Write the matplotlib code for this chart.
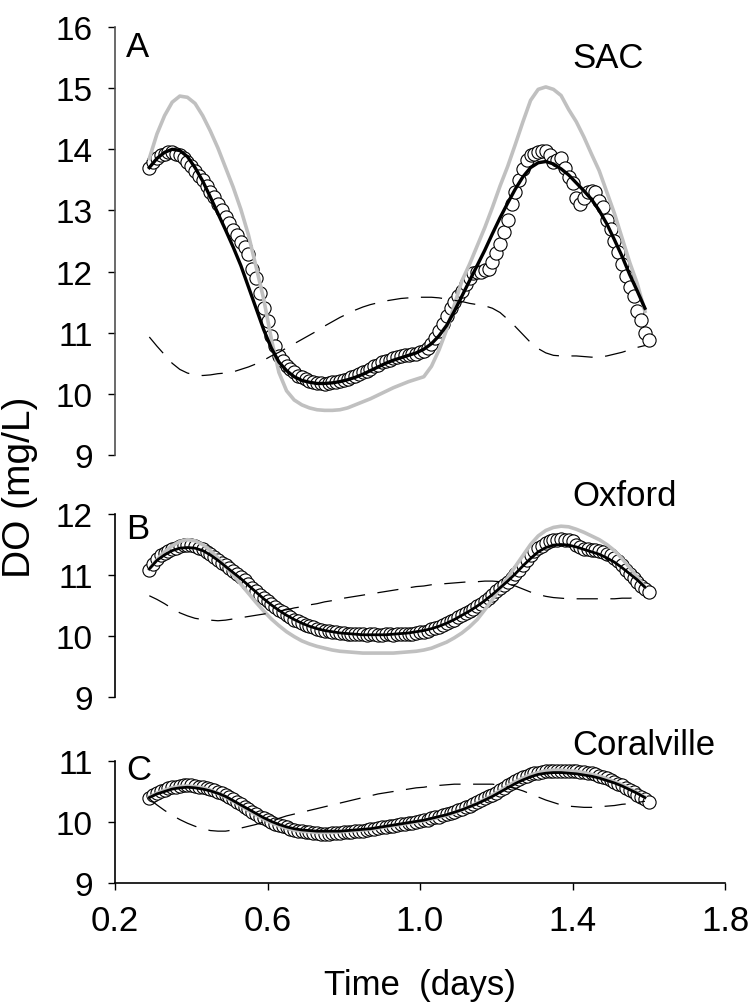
import numpy as np
import matplotlib.pyplot as plt

# time grids (days)
t_obs = np.round(np.arange(0.29, 1.605, 0.01), 2)
t_mod = np.round(np.arange(0.29, 1.595, 0.02), 2)

# ---- A: SAC ----
sac_obs = [13.70, 13.80, 13.85, 13.90, 13.93, 13.95, 13.95, 13.93, 13.90, 13.86,
           13.80, 13.72, 13.64, 13.57, 13.50, 13.40, 13.30, 13.22, 13.10, 13.00,
           12.90, 12.80, 12.68, 12.60, 12.48, 12.40, 12.28, 12.05, 11.90, 11.65,
           11.40, 11.19, 10.95, 10.78, 10.62, 10.53, 10.45, 10.40, 10.35, 10.30,
           10.27, 10.24, 10.21, 10.19, 10.18, 10.17, 10.16, 10.17, 10.19, 10.20,
           10.21, 10.23, 10.25, 10.27, 10.30, 10.33, 10.36, 10.38, 10.41, 10.45,
           10.48, 10.52, 10.54, 10.56, 10.58, 10.60, 10.62, 10.63, 10.64, 10.65,
           10.66, 10.68, 10.70, 10.75, 10.82, 10.92, 11.02, 11.15, 11.28, 11.40,
           11.50, 11.60, 11.68, 11.80, 11.90, 11.97, 12.00, 12.00, 12.02, 12.05,
           12.15, 12.30, 12.45, 12.65, 12.85, 13.10, 13.30, 13.50, 13.68, 13.82,
           13.90, 13.93, 13.95, 13.97, 13.97, 13.90, 13.80, 13.82, 13.85, 13.70,
           13.55, 13.45, 13.20, 13.10, 13.20, 13.30, 13.32, 13.30, 13.15, 13.05,
           12.85, 12.70, 12.50, 12.32, 12.12, 11.92, 11.75, 11.60, 11.35, 11.20,
           11.00, 10.88]
sac_fit = [13.70, 13.85, 13.95, 14.00, 13.98, 13.88, 13.70, 13.48, 13.22, 12.95,
           12.68, 12.40, 12.10, 11.75, 11.40, 11.05, 10.75, 10.52, 10.38, 10.28,
           10.22, 10.19, 10.17, 10.17, 10.18, 10.20, 10.23, 10.27, 10.32, 10.38,
           10.44, 10.50, 10.55, 10.59, 10.63, 10.67, 10.73, 10.82, 10.95, 11.12,
           11.35, 11.60, 11.85, 12.10, 12.35, 12.62, 12.88, 13.12, 13.35, 13.55,
           13.70, 13.78, 13.80, 13.76, 13.68, 13.58, 13.45, 13.32, 13.18, 13.00,
           12.78, 12.52, 12.25, 11.95, 11.68, 11.40]
sac_alt = [13.85, 14.25, 14.55, 14.77, 14.87, 14.85, 14.75, 14.55, 14.30, 14.02,
           13.70, 13.38, 13.02, 12.60, 12.08, 11.55, 10.90, 10.35, 10.05, 9.90,
           9.82, 9.77, 9.74, 9.73, 9.73, 9.74, 9.77, 9.82, 9.87, 9.92,
           9.98, 10.04, 10.10, 10.15, 10.20, 10.24, 10.28, 10.45, 10.72, 11.05,
           11.45, 11.85, 12.12, 12.42, 12.72, 13.05, 13.40, 13.72, 14.08, 14.45,
           14.80, 14.98, 15.02, 14.98, 14.88, 14.65, 14.45, 14.20, 13.92, 13.65,
           13.30, 12.95, 12.55, 12.15, 11.80, 11.35]
sac_dash = [10.93, 10.78, 10.64, 10.50, 10.40, 10.34, 10.31, 10.30, 10.31, 10.33,
            10.34, 10.36, 10.40, 10.44, 10.49, 10.55, 10.62, 10.68, 10.75, 10.82,
            10.89, 10.96, 11.03, 11.11, 11.18, 11.25, 11.31, 11.37, 11.42, 11.46,
            11.49, 11.52, 11.54, 11.56, 11.57, 11.58, 11.58, 11.58, 11.57, 11.55,
            11.53, 11.51, 11.48, 11.46, 11.44, 11.40, 11.33, 11.22, 11.10, 10.97,
            10.84, 10.74, 10.67, 10.63, 10.62, 10.62, 10.62, 10.61, 10.60, 10.60,
            10.62, 10.65, 10.68, 10.72, 10.76, 10.79]

# ---- B: Oxford ----
oxf_obs = [11.08, 11.18, 11.26, 11.32, 11.36, 11.40, 11.43, 11.45, 11.47, 11.49,
           11.50, 11.50, 11.48, 11.45, 11.42, 11.38, 11.34, 11.30, 11.25, 11.20,
           11.16, 11.12, 11.07, 11.02, 10.97, 10.91, 10.85, 10.79, 10.73, 10.67,
           10.62, 10.57, 10.52, 10.47, 10.43, 10.39, 10.35, 10.31, 10.27, 10.24,
           10.21, 10.18, 10.16, 10.14, 10.12, 10.10, 10.09, 10.08, 10.07, 10.06,
           10.05, 10.05, 10.04, 10.04, 10.03, 10.03, 10.03, 10.02, 10.03, 10.03,
           10.02, 10.02, 10.03, 10.03, 10.02, 10.03, 10.03, 10.03, 10.04, 10.04,
           10.05, 10.06, 10.07, 10.09, 10.11, 10.13, 10.15, 10.18, 10.21, 10.24,
           10.27, 10.31, 10.34, 10.37, 10.41, 10.45, 10.49, 10.53, 10.58, 10.63,
           10.68, 10.73, 10.78, 10.84, 10.89, 10.95, 11.02, 11.09, 11.16, 11.24,
           11.32, 11.39, 11.44, 11.48, 11.52, 11.55, 11.57, 11.58, 11.59, 11.58,
           11.57, 11.55, 11.50, 11.46, 11.43, 11.42, 11.41, 11.41, 11.40, 11.38,
           11.35, 11.32, 11.28, 11.23, 11.16, 11.09, 11.02, 10.95, 10.88, 10.82,
           10.77, 10.72]
oxf_fit = [11.10, 11.24, 11.33, 11.40, 11.44, 11.45, 11.44, 11.40, 11.33, 11.24,
           11.14, 11.04, 10.94, 10.83, 10.72, 10.61, 10.51, 10.42, 10.34, 10.27,
           10.21, 10.16, 10.12, 10.09, 10.07, 10.05, 10.04, 10.03, 10.02, 10.02,
           10.02, 10.02, 10.03, 10.04, 10.05, 10.07, 10.09, 10.12, 10.16, 10.21,
           10.27, 10.34, 10.41, 10.49, 10.58, 10.68, 10.79, 10.90, 11.02, 11.15,
           11.27, 11.38, 11.45, 11.49, 11.50, 11.49, 11.46, 11.42, 11.38, 11.34,
           11.28, 11.21, 11.12, 11.02, 10.92, 10.80]
oxf_alt = [11.10, 11.25, 11.38, 11.48, 11.55, 11.58, 11.56, 11.50, 11.40, 11.28,
           11.14, 11.00, 10.85, 10.70, 10.55, 10.41, 10.28, 10.17, 10.07, 9.99,
           9.92, 9.87, 9.83, 9.80, 9.77, 9.75, 9.74, 9.73, 9.72, 9.72,
           9.72, 9.72, 9.72, 9.73, 9.74, 9.75, 9.77, 9.80, 9.85, 9.90,
           9.97, 10.05, 10.15, 10.27, 10.43, 10.60, 10.78, 10.96, 11.14, 11.32,
           11.50, 11.64, 11.73, 11.78, 11.80, 11.79, 11.75, 11.70, 11.64, 11.58,
           11.50, 11.40, 11.27, 11.12, 10.97, 10.80]
oxf_dash = [10.66, 10.60, 10.53, 10.45, 10.38, 10.33, 10.29, 10.27, 10.26, 10.25,
            10.26, 10.28, 10.30, 10.32, 10.34, 10.36, 10.38, 10.41, 10.43, 10.46,
            10.48, 10.51, 10.53, 10.56, 10.58, 10.61, 10.63, 10.65, 10.67, 10.69,
            10.71, 10.73, 10.75, 10.77, 10.79, 10.81, 10.82, 10.84, 10.85, 10.86,
            10.87, 10.88, 10.89, 10.89, 10.90, 10.90, 10.89, 10.86, 10.82, 10.77,
            10.72, 10.68, 10.65, 10.63, 10.62, 10.61, 10.61, 10.61, 10.61, 10.61,
            10.61, 10.61, 10.62, 10.62, 10.63, 10.64]

# ---- C: Coralville ----
cor_obs = [10.40, 10.45, 10.48, 10.51, 10.53, 10.55, 10.57, 10.58, 10.59, 10.60,
           10.60, 10.60, 10.59, 10.58, 10.57, 10.56, 10.54, 10.52, 10.50, 10.47,
           10.44, 10.41, 10.37, 10.33, 10.29, 10.25, 10.21, 10.17, 10.13, 10.09,
           10.06, 10.03, 10.00, 9.97, 9.95, 9.93, 9.91, 9.89, 9.87, 9.86,
           9.85, 9.84, 9.83, 9.82, 9.82, 9.81, 9.81, 9.81, 9.82, 9.82,
           9.82, 9.83, 9.83, 9.84, 9.85, 9.85, 9.86, 9.87, 9.88, 9.89,
           9.90, 9.91, 9.92, 9.93, 9.94, 9.95, 9.96, 9.97, 9.98, 9.99,
           10.00, 10.01, 10.03, 10.04, 10.06, 10.08, 10.09, 10.11, 10.13, 10.15,
           10.17, 10.20, 10.22, 10.24, 10.27, 10.30, 10.33, 10.36, 10.39, 10.42,
           10.45, 10.48, 10.52, 10.56, 10.60, 10.64, 10.68, 10.71, 10.74, 10.76,
           10.78, 10.80, 10.81, 10.82, 10.83, 10.84, 10.84, 10.84, 10.84, 10.84,
           10.83, 10.83, 10.83, 10.82, 10.82, 10.81, 10.80, 10.78, 10.76, 10.74,
           10.72, 10.69, 10.66, 10.63, 10.60, 10.56, 10.52, 10.49, 10.45, 10.41,
           10.37, 10.32]
cor_fit = [10.40, 10.46, 10.50, 10.54, 10.56, 10.57, 10.56, 10.54, 10.51, 10.47,
           10.42, 10.35, 10.28, 10.21, 10.14, 10.07, 10.01, 9.96, 9.92, 9.89,
           9.87, 9.86, 9.85, 9.85, 9.85, 9.85, 9.86, 9.87, 9.88, 9.89,
           9.91, 9.93, 9.95, 9.97, 9.99, 10.01, 10.03, 10.06, 10.09, 10.12,
           10.16, 10.20, 10.25, 10.30, 10.36, 10.42, 10.49, 10.56, 10.63, 10.69,
           10.74, 10.78, 10.80, 10.81, 10.81, 10.80, 10.79, 10.77, 10.75, 10.72,
           10.68, 10.64, 10.59, 10.53, 10.47, 10.40]
cor_alt = [10.41, 10.47, 10.52, 10.56, 10.58, 10.59, 10.58, 10.56, 10.52, 10.47,
           10.41, 10.34, 10.27, 10.19, 10.12, 10.05, 9.99, 9.94, 9.90, 9.87,
           9.85, 9.84, 9.83, 9.83, 9.83, 9.84, 9.85, 9.86, 9.87, 9.88,
           9.90, 9.92, 9.94, 9.96, 9.98, 10.00, 10.02, 10.05, 10.08, 10.11,
           10.15, 10.20, 10.25, 10.31, 10.37, 10.44, 10.51, 10.59, 10.66, 10.72,
           10.77, 10.81, 10.84, 10.85, 10.85, 10.84, 10.83, 10.81, 10.78, 10.75,
           10.71, 10.66, 10.61, 10.55, 10.48, 10.41]
cor_dash = [10.38, 10.28, 10.19, 10.11, 10.04, 9.98, 9.93, 9.89, 9.86, 9.85,
            9.85, 9.87, 9.90, 9.93, 9.96, 10.00, 10.03, 10.06, 10.10, 10.13,
            10.16, 10.19, 10.22, 10.25, 10.28, 10.31, 10.34, 10.37, 10.40, 10.43,
            10.46, 10.48, 10.50, 10.52, 10.54, 10.56, 10.57, 10.59, 10.60, 10.61,
            10.62, 10.62, 10.62, 10.62, 10.62, 10.62, 10.60, 10.58, 10.55, 10.51,
            10.46, 10.41, 10.36, 10.32, 10.28, 10.26, 10.25, 10.24, 10.24, 10.25,
            10.26, 10.27, 10.29, 10.30, 10.32, 10.34]

panels = [
    ("A", "SAC", sac_obs, sac_fit, sac_alt, sac_dash, (9, 16), [9, 10, 11, 12, 13, 14, 15, 16]),
    ("B", "Oxford", oxf_obs, oxf_fit, oxf_alt, oxf_dash, (9, 12), [9, 10, 11, 12]),
    ("C", "Coralville", cor_obs, cor_fit, cor_alt, cor_dash, (9, 11), [9, 10, 11]),
]
xticks = [0.2, 0.6, 1.0, 1.4, 1.8]
xticklabels = ["0.2", "0.6", "1.0", "1.4", "1.8"]

plt.rcParams['font.family'] = ['Liberation Sans', 'DejaVu Sans']

W, H = 752, 1004
fig = plt.figure(figsize=(W / 100, H / 100), dpi=100)

# axes boxes in pixels: (top, bottom)
boxes = [(28, 456), (515, 698), (762, 884)]
x0, x1 = 115, 725
letter_base = [57, 539, 780]
name_base = [68, 506, 755]

for (letter, name, obs, fit, alt, dash, ylim, yticks), (top, bot), lb, nb in zip(
        panels, boxes, letter_base, name_base):
    ax = fig.add_axes([x0 / W, 1 - bot / H, (x1 - x0) / W, (bot - top) / H])
    ax.plot(t_obs, obs, 'o', ms=9.5, mfc='white', mec='black', mew=0.8, zorder=2)
    ax.plot(t_mod, alt, color='#c0c0c0', lw=2.6, zorder=3)
    ax.plot(t_mod, fit, color='black', lw=2.4 if letter == 'A' else 2.0, zorder=4)
    ax.plot(t_mod, dash, color='black', lw=0.9, dashes=(17, 10), zorder=5)

    ax.set_xlim(0.2, 1.8)
    ax.set_ylim(*ylim)
    ax.set_yticks(yticks)
    ax.set_yticklabels([str(v) for v in yticks])
    for s in ['top', 'right']:
        ax.spines[s].set_visible(False)
    ax.spines['left'].set_color('#505050' if letter == 'A' else 'black')
    ax.spines['left'].set_linewidth(1.2)
    ax.tick_params(axis='y', direction='out', length=5, width=1, pad=11,
                   labelsize=24)
    if letter == 'C':
        ax.spines['bottom'].set_linewidth(1.2)
        ax.set_xticks(xticks)
        ax.set_xticklabels(xticklabels)
        ax.tick_params(axis='x', direction='out', length=5, width=1, pad=10,
                       labelsize=25)
    else:
        ax.spines['bottom'].set_visible(False)
        ax.set_xticks([])

    fig.text(126 / W, 1 - lb / H, letter, fontsize=25, va='baseline', ha='left')
    fig.text(572 / W, 1 - nb / H, name, fontsize=25, va='baseline', ha='left')

fig.text(20 / W, 1 - 487 / H, "DO (mg/L)", rotation=90, fontsize=28,
         family=['Liberation Sans Narrow', 'Liberation Sans'],
         ha='center', va='center')
fig.text(420 / W, 1 - 995 / H, "Time  (days)", fontsize=25, ha='center',
         va='baseline')

fig.savefig("out.png", dpi=100)
